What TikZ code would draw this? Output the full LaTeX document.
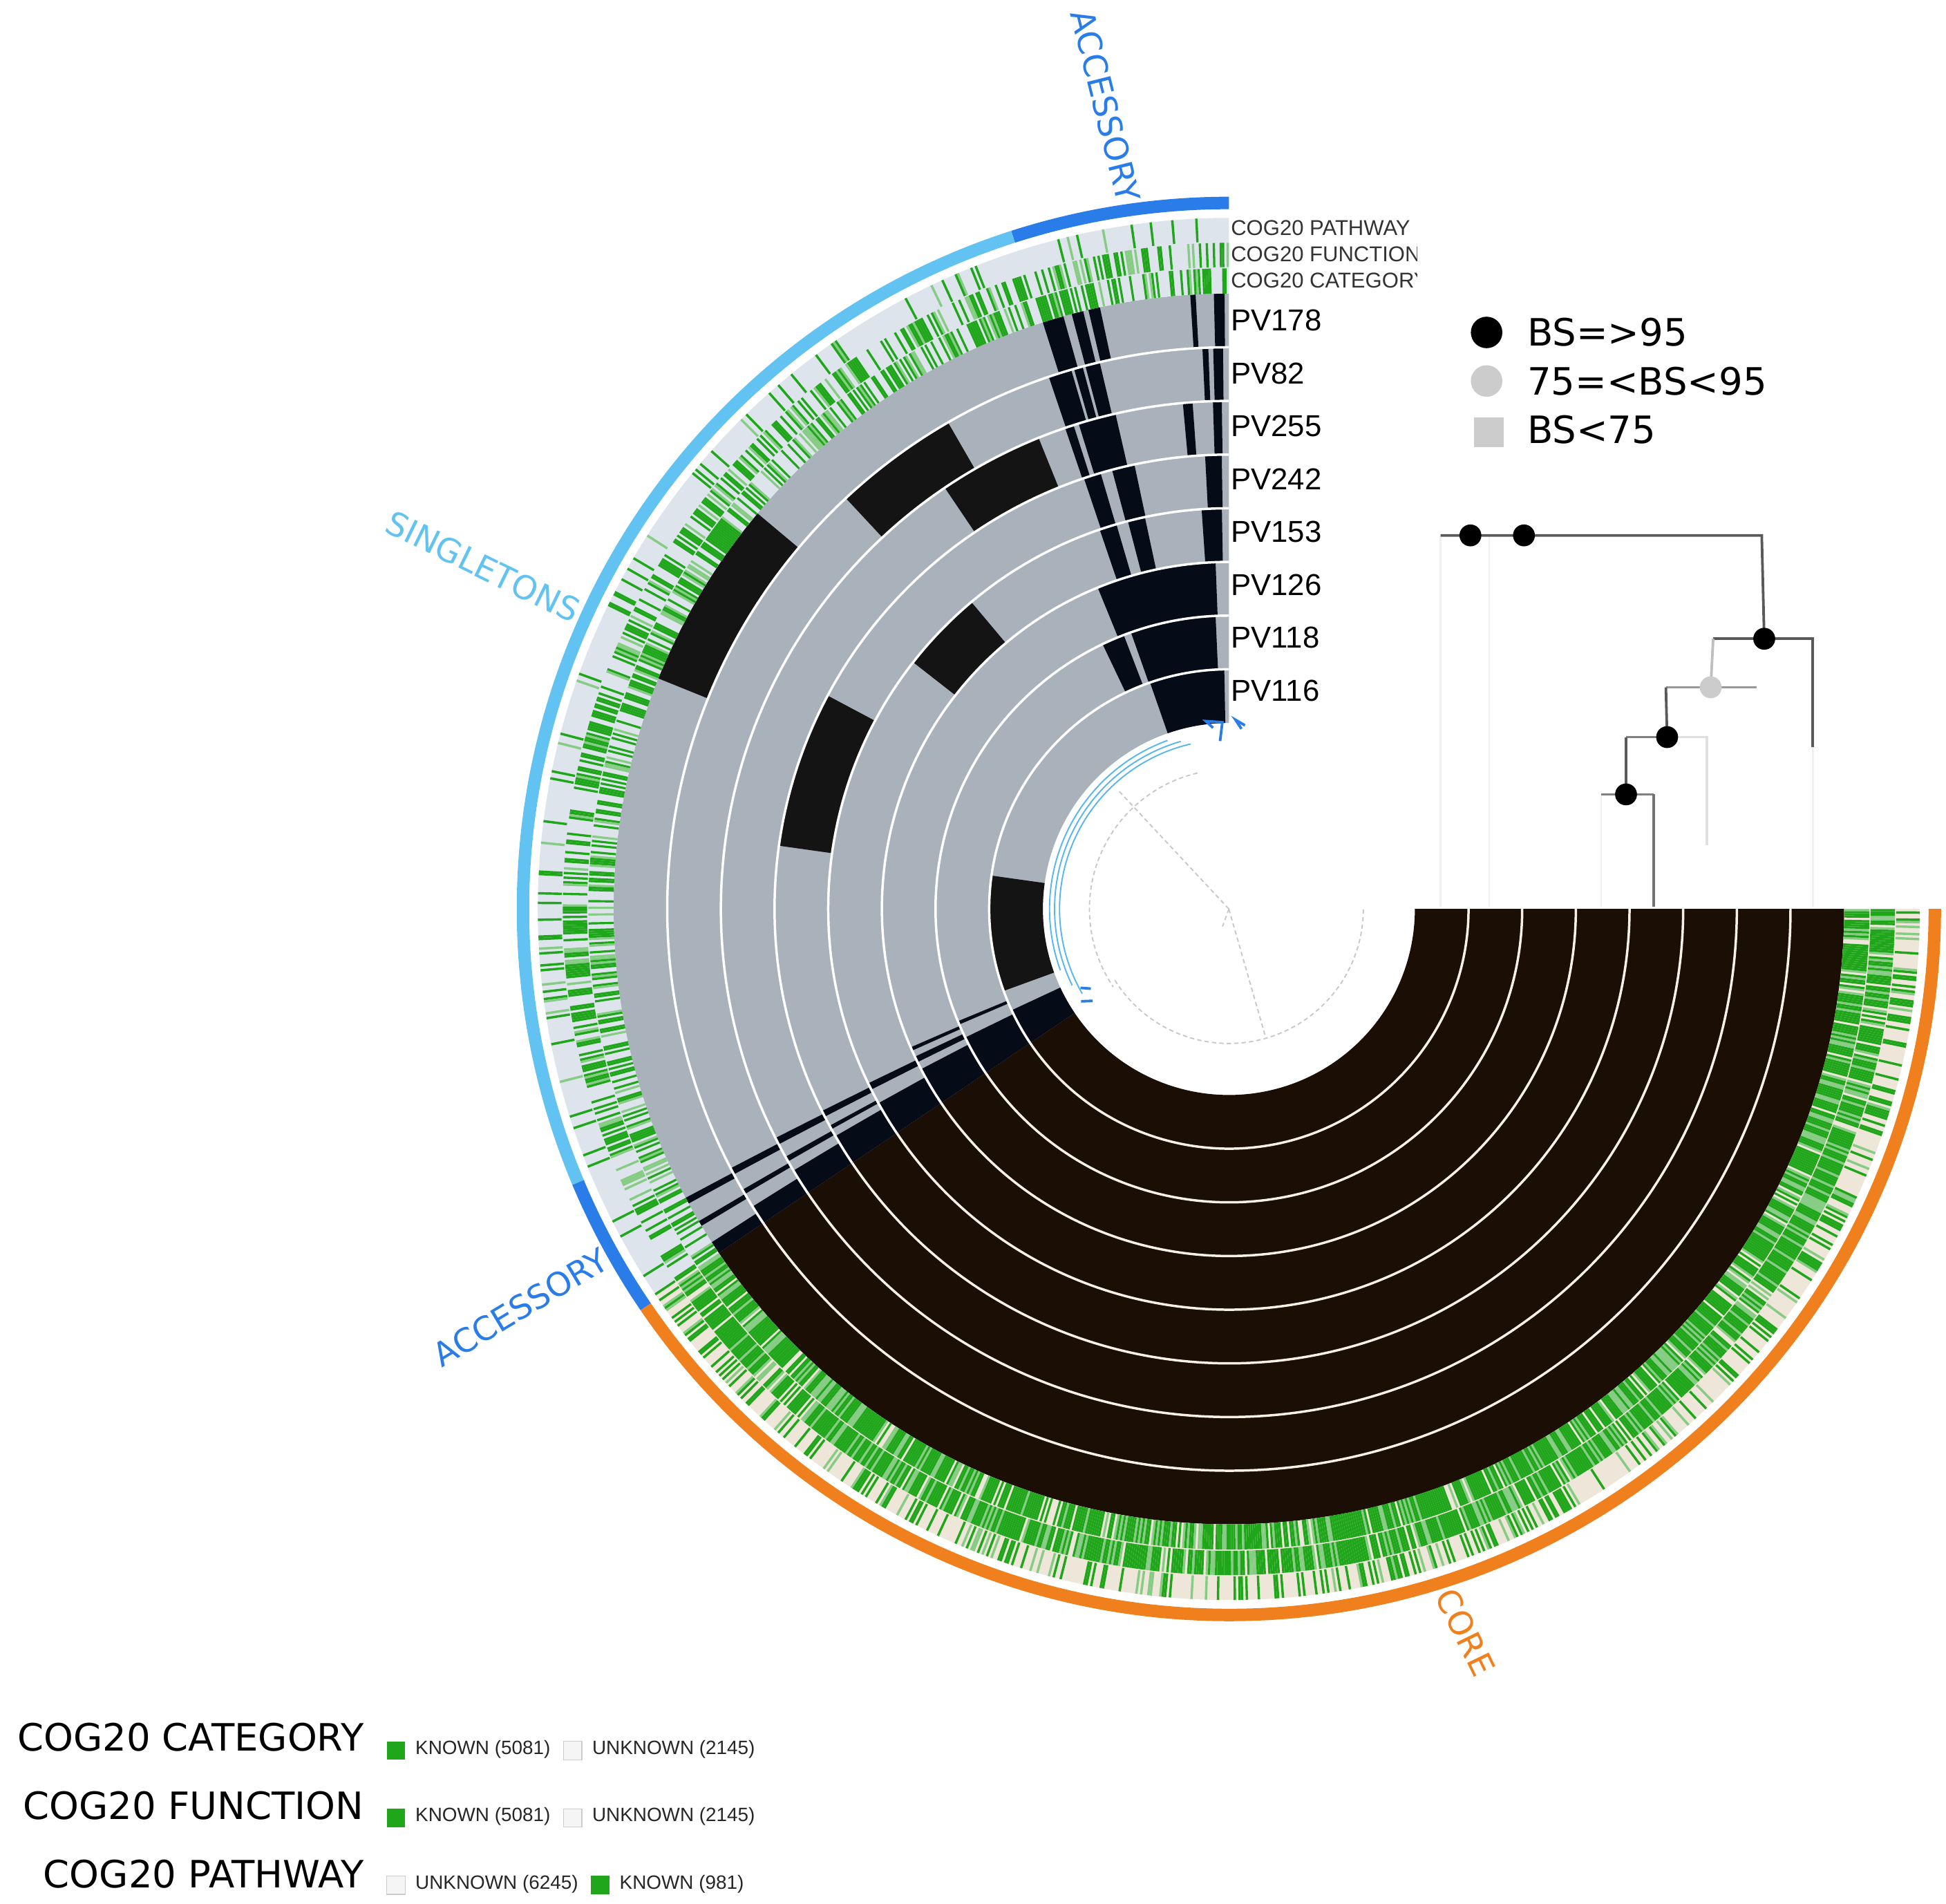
\documentclass[tikz,border=0pt]{standalone}
\usepackage{fontspec}
\newfontfamily\arialf{Liberation Sans}
\newfontfamily\dejaf{DejaVu Sans}
\definecolor{gb}{HTML}{A9B1BA}
\definecolor{navy}{HTML}{050C18}
\definecolor{corec}{HTML}{1B0E05}
\definecolor{cogbg}{HTML}{DEE4EC}
\definecolor{corebg}{HTML}{EEE6D8}
\definecolor{cogg}{HTML}{1FA61B}
\definecolor{coggl}{HTML}{86CC84}
\definecolor{accb}{HTML}{2A7DE8}
\definecolor{singb}{HTML}{62C3F2}
\definecolor{coreo}{HTML}{F07F1E}
\definecolor{treeg}{HTML}{C8C8C8}
\newcommand{\annsec}[5]{\fill[#1] (#2:#4) arc[start angle=#2,end angle=#3,radius=#4] -- (#3:#5) arc[start angle=#3,end angle=#2,radius=#5] -- cycle;}
\newcommand{\gband}[4][navy]{\pgfmathsetmacro\ri{149.4+43.1*#2}\pgfmathsetmacro\ro{\ri+43.1}\annsec{#1}{#3}{#4}{\ri}{\ro}}
\newcommand{\greenring}[4]{%
  \foreach \a in {90,90.2,...,359.9}{%
    \pgfmathsetmacro\bb{min(\a+0.2,360)}%
    \pgfmathsetmacro\pp{(\a<214)?#3:#4}%
    \pgfmathsetmacro\rr{rnd}%
    \ifdim\rr pt<\pp pt
      \pgfmathsetmacro\qq{rnd}%
      \ifdim\qq pt<0.75pt \annsec{cogg}{\a}{\bb}{#1}{#2}\else\annsec{coggl}{\a}{\bb}{#1}{#2}\fi
    \fi}}
\tikzset{
  genlabel/.style={font=\arialf\fontsize{6.9}{8}\selectfont, anchor=west, inner sep=0pt},
  coglabel/.style={font=\arialf\fontsize{4.9}{6}\selectfont, anchor=west, inner sep=0pt, text=black!80},
  arclabel/.style={font=\dejaf\fontsize{7.5}{9}\selectfont, inner sep=0pt},
  bslabel/.style={font=\dejaf\fontsize{8.6}{10}\selectfont, anchor=west, inner sep=0pt},
  leglabel/.style={font=\dejaf\fontsize{8.6}{10}\selectfont, anchor=east, inner sep=0pt},
  smalllab/.style={font=\arialf\fontsize{4.4}{5}\selectfont, anchor=west, inner sep=0pt, text=black!85},
  sqk/.style={fill=cogg, minimum size=4.2pt, inner sep=0pt},
  squ/.style={fill=gray!8, draw=gray!40, line width=0.2pt, minimum size=4.2pt, inner sep=0pt},
  bsdot/.style={circle, fill=black, minimum size=5pt, inner sep=0pt},
  treeline/.style={line width=0.6pt, draw=black!65},
}
\begin{document}
\begin{tikzpicture}[x=0.01cm,y=0.01cm]
\useasboundingbox (0,0) rectangle (1563,1529);
\begin{scope}[shift={(987,799)}]
  \annsec{gb}{90}{214}{149.4}{494.2}
  \annsec{corec}{214}{360}{149.4}{494.2}
  \gband{7}{105.6}{107.6}\gband{7}{103.7}{104.8}\gband{7}{102.1}{103.2}\gband{7}{93.1}{93.6}\gband{7}{90.4}{91.4}
  \gband{6}{106.3}{108.7}\gband{6}{105.1}{106.0}\gband{6}{103.3}{104.8}\gband{6}{92.1}{92.7}\gband{6}{90.6}{91.6}
  \gband{5}{107.8}{108.8}\gband{5}{102.9}{107.2}\gband{5}{94.1}{95.2}\gband{5}{90.8}{91.8}
  \gband{4}{106.4}{108.6}\gband{4}{102}{104.9}\gband{4}{90.9}{93.0}
  \gband{3}{106.3}{108.8}\gband{3}{102.1}{104.6}\gband{3}{91}{93.9}
  \gband{2}{92.2}{112.2}
  \gband{1}{92.6}{109.5}\gband{1}{111}{115.5}
  \gband{0}{91.1}{109.2}
  \gband[black!92]{7}{140}{158}
  \gband[black!92]{6}{120}{133}
  \gband[black!92]{5}{112}{124}
  \gband[black!92]{4}{152}{172}
  \gband[black!92]{3}{130}{142}
  \gband[black!92]{0}{172}{200}
  \gband{0}{205}{214}\gband{1}{206}{214}\gband{2}{207.5}{214}\gband{3}{209}{214}
  \gband{4}{210}{214}\gband{5}{211}{214}\gband{6}{212}{214}\gband{7}{212.8}{214}
  \gband{2}{205.2}{206.2}\gband{3}{205.8}{206.8}\gband{4}{206.4}{207.2}\gband{5}{206.8}{207.6}\gband{6}{207.5}{208.2}\gband{7}{208}{208.6}
  \gband{4}{208.5}{209}\gband{5}{209.2}{209.8}\gband{6}{210}{210.5}\gband{7}{210.5}{211}
  \gband{1}{202.5}{203.2}\gband{2}{203.5}{204.1}
  \foreach \k in {1,...,7}{
    \pgfmathsetmacro\rs{149.4+43.1*\k}
    \draw[white, line width=0.55pt] (90:\rs) arc[start angle=90,end angle=214,radius=\rs];
    \draw[corebg!60!white, line width=0.55pt] (214:\rs) arc[start angle=214,end angle=360,radius=\rs];
  }
  \annsec{cogbg}{90}{214}{494.2}{555}
  \annsec{corebg}{214}{360}{494.2}{555}
  \pgfmathsetseed{7}
  \greenring{494.2}{514.5}{0.5}{0.9}
  \greenring{515.5}{535}{0.45}{0.9}
  \greenring{536}{555}{0.12}{0.35}
  \annsec{accb}{90}{107.8}{562}{572}
  \annsec{singb}{107.8}{202.8}{562}{572}
  \annsec{accb}{202.8}{214.3}{562}{572}
  \annsec{coreo}{214.3}{360}{562}{572}
  \draw[treeg, line width=0.3pt, dash pattern=on 1pt off 0.7pt] (0,0) -- (133:130) (0,0) -- (286:105) (0,0) -- (250:15);
  \draw[treeg, line width=0.3pt, dash pattern=on 1pt off 0.7pt] (103:112) arc[start angle=103,end angle=214,radius=112];
  \draw[treeg, line width=0.3pt, dash pattern=on 1pt off 0.7pt] (212:108) arc[start angle=212,end angle=360,radius=108];
  \foreach \rb/\as/\ae in {136/103/210, 140/106/206, 144/110/200}
    \draw[singb!80!accb, line width=0.3pt] (\as:\rb) arc[start angle=\as,end angle=\ae,radius=\rb];
  \draw[accb, line width=0.6pt] (93:135) -- (92:150) -- (97:152) -- (95:146) (85:148) -- (88:152) -- (86:145) (208:135) -- (210:128) (212:140) -- (214:132);
\end{scope}
\foreach \n/\yy in {PV178/257,PV82/300,PV255/342,PV242/385,PV153/427,PV126/470,PV118/512,PV116/555}
  \node[genlabel] (l\n) at (988,1529-\yy) {\n};
\begin{scope}
  \clip (985,1529-240) rectangle (1138,1529-170);
  \node[coglabel] (cp) at (988,1529-183) {COG20 PATHWAY};
  \node[coglabel] (cf) at (988,1529-204) {COG20 FUNCTION};
  \node[coglabel] (cc) at (988,1529-225) {COG20 CATEGORY};
\end{scope}
\node[arclabel, text=accb, rotate=-76] (acc1) at (888,1529-85) {ACCESSORY};
\node[arclabel, text=singb, rotate=-26] (sing) at (388,1529-455) {SINGLETONS};
\node[arclabel, text=accb, rotate=31] (acc2) at (418,1529-1050) {ACCESSORY};
\node[arclabel, text=coreo, rotate=-64] (core) at (1177,1529-1311) {CORE};
\node[bsdot, minimum size=7.2pt] (b1) at (1194,1529-267) {};
\node[bslabel] (t1) at (1226,1529-267) {BS=>95};
\node[bsdot, fill=gray!40, minimum size=7.2pt] (b2) at (1194,1529-306) {};
\node[bslabel] (t2) at (1226,1529-306) {75=<BS<95};
\node[fill=gray!40, minimum size=6.8pt, inner sep=0pt] (b3) at (1196,1529-347) {};
\node[bslabel] (t3) at (1226,1529-345) {BS<75};
\coordinate (r0) at (1157,1529-430);
\coordinate (r1) at (1415,1529-430);
\coordinate (ra) at (1376,1529-513);
\coordinate (rb) at (1456,1529-513);
\coordinate (rbb) at (1456,1529-600);
\coordinate (rc) at (1338,1529-552);
\coordinate (rd) at (1411,1529-552);
\coordinate (re) at (1306,1529-592);
\coordinate (rf) at (1371,1529-592);
\coordinate (rfb) at (1371,1529-679);
\coordinate (rg) at (1286,1529-638);
\coordinate (rh) at (1328,1529-638);
\coordinate (rhb) at (1328,1529-728);
\coordinate (rgb) at (1286,1529-728);
\coordinate (d1c) at (1181,1529-430);
\coordinate (d2c) at (1224,1529-430);
\coordinate (d3c) at (1417,1529-513);
\coordinate (d4c) at (1374,1529-552);
\coordinate (d5c) at (1339,1529-592);
\coordinate (d6c) at (1306,1529-638);
\draw[line width=0.4pt, draw=black!6] (rg) -- (rgb) (rbb) -- (1456,1529-728) (r0) -- (1157,1529-728) (1196,1529-430) -- (1196,1529-728);
\draw[treeline] (r0) -- (r1) -- (d3c);
\draw[treeline] (ra) -- (rb) -- (rbb);
\draw[treeline, draw=black!25] (ra) -- (d4c);
\draw[treeline, draw=black!40] (rc) -- (rd);
\draw[treeline] (rc) -- (d5c);
\draw[treeline, draw=black!50] (re) -- (d5c);
\draw[treeline, draw=black!12] (d5c) -- (rf) -- (rfb);
\draw[treeline] (re) -- (d6c);
\draw[treeline, draw=black!50] (rg) -- (rh);
\draw[treeline, draw=black!55] (rh) -- (rhb);
\node[bsdot] (d1) at (d1c) {};\node[bsdot] (d2) at (d2c) {};\node[bsdot] (d3) at (d3c) {};
\node[bsdot, fill=gray!40] (d4) at (d4c) {};\node[bsdot] (d5) at (d5c) {};\node[bsdot] (d6) at (d6c) {};
\node[leglabel] (lc) at (293,1529-1395) {COG20 CATEGORY};
\node[leglabel] (lf) at (293,1529-1450) {COG20 FUNCTION};
\node[leglabel] (lp) at (293,1529-1505) {COG20 PATHWAY};
\node[sqk] (s1) at (318,1529-1406) {}; \node[smalllab] (k1) at (333,1529-1405) {KNOWN (5081)};
\node[squ] (s2) at (460,1529-1406) {}; \node[smalllab] (u1) at (475,1529-1405) {UNKNOWN (2145)};
\node[sqk] (s3) at (318,1529-1460) {}; \node[smalllab] (k2) at (333,1529-1459) {KNOWN (5081)};
\node[squ] (s4) at (460,1529-1460) {}; \node[smalllab] (u2) at (475,1529-1459) {UNKNOWN (2145)};
\node[squ] (s5) at (318,1529-1514) {}; \node[smalllab] (u3) at (333,1529-1513) {UNKNOWN (6245)};
\node[sqk] (s6) at (482,1529-1514) {}; \node[smalllab] (k3) at (497,1529-1513) {KNOWN (981)};
\end{tikzpicture}
\end{document}
